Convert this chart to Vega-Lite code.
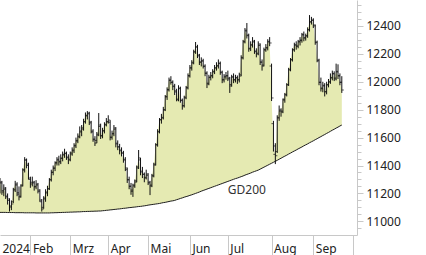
{
"$schema":"https://vega.github.io/schema/vega-lite/v6.json",
"width":357,"height":235,"autosize":{"type":"none"},"padding":{"left":0,"top":0,"right":69,"bottom":20},"background":"white",
"config":{"view":{"stroke":null},"font":"Noto Sans","axis":{"labelFont":"Noto Sans","labelFontSize":12,"labelColor":"#222222","domainColor":"#c8c8c8","tickColor":"#c8c8c8","grid":false,"title":null,"labelOverlap":false},"axisY":{"labelOverlap":false}},
"data":{"values":[
{"d":"2024-01-10","o":11250,"h":11310,"l":11200,"c":11281,"g":11064},
{"d":"2024-01-11","o":11275,"h":11290,"l":11190,"c":11210,"g":11064},
{"d":"2024-01-12","o":11220,"h":11265,"l":11180,"c":11238,"g":11064},
{"d":"2024-01-15","o":11230,"h":11245,"l":11160,"c":11181,"g":11064},
{"d":"2024-01-16","o":11175,"h":11200,"l":11120,"c":11160,"g":11063},
{"d":"2024-01-17","o":11150,"h":11165,"l":11070,"c":11102,"g":11063},
{"d":"2024-01-18","o":11110,"h":11150,"l":11080,"c":11124,"g":11063},
{"d":"2024-01-19","o":11140,"h":11240,"l":11130,"c":11224,"g":11063},
{"d":"2024-01-22","o":11230,"h":11290,"l":11210,"c":11267,"g":11062},
{"d":"2024-01-23","o":11260,"h":11280,"l":11180,"c":11195,"g":11062},
{"d":"2024-01-24","o":11205,"h":11250,"l":11150,"c":11174,"g":11062},
{"d":"2024-01-25","o":11180,"h":11265,"l":11170,"c":11253,"g":11062},
{"d":"2024-01-26","o":11260,"h":11380,"l":11250,"c":11367,"g":11062},
{"d":"2024-01-29","o":11370,"h":11460,"l":11350,"c":11439,"g":11061},
{"d":"2024-01-30","o":11440,"h":11450,"l":11380,"c":11410,"g":11061},
{"d":"2024-01-31","o":11400,"h":11420,"l":11300,"c":11310,"g":11061},
{"d":"2024-02-01","o":11300,"h":11320,"l":11240,"c":11267,"g":11061},
{"d":"2024-02-02","o":11280,"h":11320,"l":11250,"c":11281,"g":11061},
{"d":"2024-02-05","o":11275,"h":11290,"l":11220,"c":11246,"g":11061},
{"d":"2024-02-06","o":11250,"h":11295,"l":11230,"c":11267,"g":11060},
{"d":"2024-02-07","o":11260,"h":11275,"l":11200,"c":11224,"g":11060},
{"d":"2024-02-08","o":11215,"h":11230,"l":11140,"c":11152,"g":11060},
{"d":"2024-02-09","o":11140,"h":11160,"l":11070,"c":11088,"g":11060},
{"d":"2024-02-12","o":11100,"h":11180,"l":11090,"c":11167,"g":11060},
{"d":"2024-02-13","o":11160,"h":11230,"l":11140,"c":11203,"g":11060},
{"d":"2024-02-14","o":11210,"h":11255,"l":11180,"c":11231,"g":11060},
{"d":"2024-02-15","o":11235,"h":11310,"l":11225,"c":11296,"g":11060},
{"d":"2024-02-16","o":11300,"h":11370,"l":11285,"c":11353,"g":11061},
{"d":"2024-02-19","o":11350,"h":11400,"l":11330,"c":11382,"g":11061},
{"d":"2024-02-20","o":11380,"h":11430,"l":11360,"c":11418,"g":11062},
{"d":"2024-02-21","o":11420,"h":11460,"l":11400,"c":11439,"g":11062},
{"d":"2024-02-22","o":11445,"h":11470,"l":11400,"c":11425,"g":11063},
{"d":"2024-02-23","o":11430,"h":11480,"l":11410,"c":11454,"g":11063},
{"d":"2024-02-26","o":11450,"h":11500,"l":11430,"c":11475,"g":11064},
{"d":"2024-02-27","o":11480,"h":11520,"l":11455,"c":11489,"g":11064},
{"d":"2024-02-28","o":11485,"h":11500,"l":11440,"c":11461,"g":11065},
{"d":"2024-02-29","o":11455,"h":11480,"l":11410,"c":11439,"g":11065},
{"d":"2024-03-01","o":11445,"h":11500,"l":11430,"c":11482,"g":11066},
{"d":"2024-03-04","o":11490,"h":11530,"l":11470,"c":11511,"g":11066},
{"d":"2024-03-05","o":11505,"h":11560,"l":11490,"c":11540,"g":11067},
{"d":"2024-03-06","o":11545,"h":11600,"l":11525,"c":11575,"g":11067},
{"d":"2024-03-07","o":11580,"h":11630,"l":11560,"c":11604,"g":11068},
{"d":"2024-03-08","o":11610,"h":11680,"l":11595,"c":11647,"g":11068},
{"d":"2024-03-11","o":11640,"h":11690,"l":11610,"c":11661,"g":11069},
{"d":"2024-03-12","o":11670,"h":11735,"l":11650,"c":11712,"g":11070},
{"d":"2024-03-13","o":11715,"h":11780,"l":11700,"c":11755,"g":11070},
{"d":"2024-03-14","o":11760,"h":11790,"l":11730,"c":11776,"g":11071},
{"d":"2024-03-15","o":11770,"h":11785,"l":11690,"c":11712,"g":11071},
{"d":"2024-03-18","o":11705,"h":11720,"l":11630,"c":11647,"g":11072},
{"d":"2024-03-19","o":11640,"h":11660,"l":11570,"c":11590,"g":11072},
{"d":"2024-03-20","o":11585,"h":11610,"l":11540,"c":11561,"g":11073},
{"d":"2024-03-21","o":11580,"h":11640,"l":11560,"c":11618,"g":11073},
{"d":"2024-03-22","o":11625,"h":11776,"l":11610,"c":11690,"g":11074},
{"d":"2024-03-25","o":11680,"h":11700,"l":11590,"c":11611,"g":11074},
{"d":"2024-03-26","o":11615,"h":11670,"l":11595,"c":11647,"g":11076},
{"d":"2024-03-27","o":11650,"h":11710,"l":11630,"c":11690,"g":11077},
{"d":"2024-03-28","o":11695,"h":11740,"l":11680,"c":11712,"g":11079},
{"d":"2024-04-02","o":11715,"h":11760,"l":11700,"c":11726,"g":11080},
{"d":"2024-04-03","o":11710,"h":11725,"l":11580,"c":11604,"g":11082},
{"d":"2024-04-04","o":11600,"h":11650,"l":11585,"c":11626,"g":11083},
{"d":"2024-04-05","o":11630,"h":11690,"l":11610,"c":11669,"g":11085},
{"d":"2024-04-08","o":11660,"h":11675,"l":11530,"c":11554,"g":11086},
{"d":"2024-04-09","o":11560,"h":11580,"l":11510,"c":11532,"g":11088},
{"d":"2024-04-10","o":11535,"h":11555,"l":11480,"c":11511,"g":11089},
{"d":"2024-04-11","o":11505,"h":11530,"l":11465,"c":11489,"g":11091},
{"d":"2024-04-12","o":11490,"h":11505,"l":11420,"c":11439,"g":11093},
{"d":"2024-04-15","o":11445,"h":11460,"l":11360,"c":11382,"g":11094},
{"d":"2024-04-16","o":11370,"h":11385,"l":11275,"c":11296,"g":11096},
{"d":"2024-04-17","o":11300,"h":11320,"l":11230,"c":11253,"g":11098},
{"d":"2024-04-18","o":11250,"h":11275,"l":11190,"c":11224,"g":11099},
{"d":"2024-04-19","o":11215,"h":11270,"l":11175,"c":11253,"g":11101},
{"d":"2024-04-22","o":11260,"h":11300,"l":11240,"c":11281,"g":11102},
{"d":"2024-04-23","o":11290,"h":11400,"l":11280,"c":11382,"g":11104},
{"d":"2024-04-24","o":11390,"h":11511,"l":11375,"c":11454,"g":11106},
{"d":"2024-04-25","o":11440,"h":11455,"l":11330,"c":11353,"g":11107},
{"d":"2024-04-26","o":11360,"h":11390,"l":11310,"c":11339,"g":11109},
{"d":"2024-04-29","o":11335,"h":11350,"l":11280,"c":11310,"g":11111},
{"d":"2024-04-30","o":11315,"h":11370,"l":11300,"c":11339,"g":11113},
{"d":"2024-05-02","o":11330,"h":11345,"l":11260,"c":11281,"g":11116},
{"d":"2024-05-03","o":11275,"h":11290,"l":11188,"c":11253,"g":11118},
{"d":"2024-05-06","o":11260,"h":11340,"l":11245,"c":11324,"g":11120},
{"d":"2024-05-07","o":11330,"h":11420,"l":11315,"c":11403,"g":11122},
{"d":"2024-05-08","o":11410,"h":11560,"l":11400,"c":11547,"g":11124},
{"d":"2024-05-09","o":11550,"h":11660,"l":11535,"c":11640,"g":11126},
{"d":"2024-05-10","o":11645,"h":11740,"l":11630,"c":11726,"g":11128},
{"d":"2024-05-13","o":11730,"h":11770,"l":11700,"c":11740,"g":11131},
{"d":"2024-05-14","o":11745,"h":11820,"l":11730,"c":11798,"g":11134},
{"d":"2024-05-15","o":11800,"h":11905,"l":11790,"c":11891,"g":11136},
{"d":"2024-05-16","o":11895,"h":11960,"l":11870,"c":11941,"g":11139},
{"d":"2024-05-17","o":11945,"h":12030,"l":11930,"c":12013,"g":11142},
{"d":"2024-05-20","o":12010,"h":12040,"l":11980,"c":11998,"g":11145},
{"d":"2024-05-21","o":11995,"h":12010,"l":11940,"c":11970,"g":11147},
{"d":"2024-05-22","o":11965,"h":11985,"l":11905,"c":11927,"g":11150},
{"d":"2024-05-23","o":11935,"h":11950,"l":11860,"c":11876,"g":11155},
{"d":"2024-05-24","o":11870,"h":11975,"l":11860,"c":11955,"g":11159},
{"d":"2024-05-27","o":11950,"h":11965,"l":11850,"c":11869,"g":11164},
{"d":"2024-05-28","o":11865,"h":11880,"l":11800,"c":11826,"g":11168},
{"d":"2024-05-29","o":11830,"h":11900,"l":11815,"c":11884,"g":11173},
{"d":"2024-05-30","o":11890,"h":11970,"l":11875,"c":11955,"g":11177},
{"d":"2024-05-31","o":11960,"h":12060,"l":11945,"c":12041,"g":11181},
{"d":"2024-06-03","o":12045,"h":12120,"l":12030,"c":12099,"g":11186},
{"d":"2024-06-04","o":12100,"h":12155,"l":12080,"c":12134,"g":11190},
{"d":"2024-06-05","o":12140,"h":12230,"l":12125,"c":12213,"g":11195},
{"d":"2024-06-06","o":12215,"h":12285,"l":12200,"c":12249,"g":11200},
{"d":"2024-06-07","o":12250,"h":12265,"l":12170,"c":12192,"g":11205},
{"d":"2024-06-10","o":12185,"h":12200,"l":12120,"c":12142,"g":11210},
{"d":"2024-06-11","o":12140,"h":12175,"l":12110,"c":12149,"g":11216},
{"d":"2024-06-12","o":12150,"h":12165,"l":12095,"c":12113,"g":11221},
{"d":"2024-06-13","o":12110,"h":12125,"l":12040,"c":12063,"g":11226},
{"d":"2024-06-14","o":12060,"h":12075,"l":11955,"c":11984,"g":11231},
{"d":"2024-06-17","o":11990,"h":12050,"l":11975,"c":12034,"g":11236},
{"d":"2024-06-18","o":12030,"h":12070,"l":12010,"c":12041,"g":11241},
{"d":"2024-06-19","o":12045,"h":12090,"l":12025,"c":12070,"g":11246},
{"d":"2024-06-20","o":12075,"h":12120,"l":12055,"c":12099,"g":11251},
{"d":"2024-06-21","o":12100,"h":12140,"l":12080,"c":12113,"g":11256},
{"d":"2024-06-24","o":12115,"h":12160,"l":12095,"c":12134,"g":11261},
{"d":"2024-06-25","o":12130,"h":12145,"l":12050,"c":12070,"g":11266},
{"d":"2024-06-26","o":12065,"h":12080,"l":11990,"c":12013,"g":11271},
{"d":"2024-06-27","o":12015,"h":12055,"l":11995,"c":12034,"g":11276},
{"d":"2024-06-28","o":12040,"h":12070,"l":12015,"c":12041,"g":11281},
{"d":"2024-07-01","o":12045,"h":12080,"l":12005,"c":12027,"g":11286},
{"d":"2024-07-02","o":12020,"h":12035,"l":11920,"c":11970,"g":11291},
{"d":"2024-07-03","o":11980,"h":12050,"l":11965,"c":12034,"g":11296},
{"d":"2024-07-04","o":12035,"h":12060,"l":11990,"c":12013,"g":11301},
{"d":"2024-07-05","o":12015,"h":12050,"l":11995,"c":12027,"g":11306},
{"d":"2024-07-08","o":12030,"h":12045,"l":11985,"c":12013,"g":11310},
{"d":"2024-07-09","o":12015,"h":12065,"l":11995,"c":12041,"g":11315},
{"d":"2024-07-10","o":12050,"h":12190,"l":12040,"c":12170,"g":11320},
{"d":"2024-07-11","o":12175,"h":12300,"l":12160,"c":12285,"g":11325},
{"d":"2024-07-12","o":12290,"h":12385,"l":12275,"c":12364,"g":11331},
{"d":"2024-07-15","o":12370,"h":12421,"l":12310,"c":12335,"g":11336},
{"d":"2024-07-16","o":12330,"h":12345,"l":12215,"c":12235,"g":11341},
{"d":"2024-07-17","o":12240,"h":12290,"l":12220,"c":12263,"g":11346},
{"d":"2024-07-18","o":12265,"h":12320,"l":12245,"c":12292,"g":11352},
{"d":"2024-07-19","o":12285,"h":12300,"l":12200,"c":12220,"g":11357},
{"d":"2024-07-22","o":12215,"h":12240,"l":12175,"c":12199,"g":11362},
{"d":"2024-07-23","o":12205,"h":12290,"l":12190,"c":12270,"g":11367},
{"d":"2024-07-24","o":12260,"h":12275,"l":12120,"c":12142,"g":11374},
{"d":"2024-07-25","o":12140,"h":12160,"l":12080,"c":12113,"g":11381},
{"d":"2024-07-26","o":12120,"h":12245,"l":12110,"c":12228,"g":11388},
{"d":"2024-07-29","o":12230,"h":12270,"l":12215,"c":12242,"g":11395},
{"d":"2024-07-30","o":12245,"h":12305,"l":12225,"c":12285,"g":11402},
{"d":"2024-07-31","o":12290,"h":12320,"l":12255,"c":12278,"g":11409},
{"d":"2024-08-01","o":12113,"h":12130,"l":11862,"c":11884,"g":11416},
{"d":"2024-08-02","o":11700,"h":11720,"l":11500,"c":11540,"g":11423},
{"d":"2024-08-05","o":11480,"h":11560,"l":11410,"c":11470,"g":11430},
{"d":"2024-08-06","o":11500,"h":11760,"l":11490,"c":11740,"g":11437},
{"d":"2024-08-07","o":11745,"h":11830,"l":11720,"c":11798,"g":11445},
{"d":"2024-08-08","o":11790,"h":11810,"l":11750,"c":11783,"g":11452},
{"d":"2024-08-09","o":11790,"h":11880,"l":11775,"c":11869,"g":11460},
{"d":"2024-08-12","o":11875,"h":11920,"l":11850,"c":11905,"g":11467},
{"d":"2024-08-13","o":11910,"h":11990,"l":11895,"c":11977,"g":11474},
{"d":"2024-08-14","o":11980,"h":12100,"l":11970,"c":12084,"g":11482},
{"d":"2024-08-15","o":12090,"h":12170,"l":12075,"c":12156,"g":11489},
{"d":"2024-08-16","o":12160,"h":12240,"l":12145,"c":12228,"g":11497},
{"d":"2024-08-19","o":12230,"h":12280,"l":12215,"c":12263,"g":11504},
{"d":"2024-08-20","o":12265,"h":12290,"l":12230,"c":12256,"g":11511},
{"d":"2024-08-21","o":12255,"h":12300,"l":12240,"c":12285,"g":11519},
{"d":"2024-08-22","o":12290,"h":12320,"l":12260,"c":12299,"g":11526},
{"d":"2024-08-23","o":12295,"h":12350,"l":12280,"c":12335,"g":11533},
{"d":"2024-08-26","o":12340,"h":12360,"l":12290,"c":12314,"g":11541},
{"d":"2024-08-27","o":12315,"h":12345,"l":12295,"c":12328,"g":11548},
{"d":"2024-08-28","o":12330,"h":12390,"l":12315,"c":12371,"g":11555},
{"d":"2024-08-29","o":12375,"h":12478,"l":12360,"c":12428,"g":11563},
{"d":"2024-08-30","o":12430,"h":12465,"l":12410,"c":12443,"g":11570},
{"d":"2024-09-02","o":12440,"h":12455,"l":12385,"c":12407,"g":11577},
{"d":"2024-09-03","o":12400,"h":12410,"l":12265,"c":12285,"g":11585},
{"d":"2024-09-04","o":12280,"h":12295,"l":12140,"c":12156,"g":11592},
{"d":"2024-09-05","o":12150,"h":12165,"l":11975,"c":11998,"g":11600},
{"d":"2024-09-06","o":11995,"h":12030,"l":11930,"c":11955,"g":11607},
{"d":"2024-09-09","o":11950,"h":12000,"l":11925,"c":11970,"g":11615},
{"d":"2024-09-10","o":11975,"h":11990,"l":11895,"c":11927,"g":11622},
{"d":"2024-09-11","o":11930,"h":12000,"l":11910,"c":11977,"g":11630},
{"d":"2024-09-12","o":11980,"h":12020,"l":11960,"c":11998,"g":11637},
{"d":"2024-09-13","o":12000,"h":12060,"l":11985,"c":12027,"g":11645},
{"d":"2024-09-16","o":12030,"h":12080,"l":12010,"c":12056,"g":11653},
{"d":"2024-09-17","o":12060,"h":12075,"l":12005,"c":12027,"g":11660},
{"d":"2024-09-18","o":12020,"h":12130,"l":12010,"c":12070,"g":11668},
{"d":"2024-09-19","o":12075,"h":12125,"l":12020,"c":12041,"g":11675},
{"d":"2024-09-20","o":12045,"h":12060,"l":11975,"c":11998,"g":11683},
{"d":"2024-09-23","o":11995,"h":12040,"l":11920,"c":11941,"g":11690},
{"d":"2024-09-24"},{"d":"2024-09-25"},{"d":"2024-09-26"},{"d":"2024-09-27"},{"d":"2024-09-30"},{"d":"2024-10-01"},{"d":"2024-10-02"},{"d":"2024-10-03"}
]},
"encoding":{"x":{"field":"d","type":"ordinal","scale":{"type":"point","padding":0},"axis":{
"values":["2024-01-10","2024-02-01","2024-03-01","2024-04-02","2024-05-02","2024-06-03","2024-07-01","2024-08-01","2024-09-02","2024-10-01"],
"labelExpr":"datum.value == '2024-01-10' ? '2024' : (datum.value == '2024-10-01' ? '' : ['Jan','Feb','Mrz','Apr','Mai','Jun','Jul','Aug','Sep','Okt'][toNumber(slice(datum.value,5,7))-1])",
"tickSize":20,"tickColor":{"condition":{"test":"datum.value == '2024-01-10'","value":"transparent"},"value":"#c8c8c8"},
"labelAlign":"left","labelBaseline":"alphabetic","labelPadding":-3,"labelOffset":2,"labelAngle":0,"labelOverlap":false,"labelFlush":false,"labelBound":false}}},
"resolve":{"scale":{"y":"independent"}},
"layer":[
{"layer":[
{"mark":{"type":"point","opacity":0},"encoding":{}},
{"mark":{"type":"area","color":"#e5eab2"},"encoding":{"y":{"field":"c","type":"quantitative","scale":{"domain":[10902,12586],"nice":false,"zero":false},"axis":{"orient":"right","values":[11000,11200,11400,11600,11800,12000,12200,12400],"format":"d","tickSize":6,"labelPadding":3,"labelAlign":"left","labelBaseline":"middle","labelOverlap":false,"labelFlush":false,"labelBound":false}},"y2":{"field":"g"}}},
{"mark":{"type":"line","color":"#1e1e1e","strokeWidth":1},"encoding":{"y":{"field":"g","type":"quantitative","axis":{"orient":"right","values":[11000,11200,11400,11600,11800,12000,12200,12400],"format":"d","tickSize":6,"labelPadding":3,"labelAlign":"left","labelBaseline":"middle","labelOverlap":false,"labelFlush":false,"labelBound":false}}}},
{"mark":{"type":"rule","color":"#111111","strokeWidth":1},"encoding":{"y":{"field":"l","type":"quantitative","axis":{"orient":"right","values":[11000,11200,11400,11600,11800,12000,12200,12400],"format":"d","tickSize":6,"labelPadding":3,"labelAlign":"left","labelBaseline":"middle","labelOverlap":false,"labelFlush":false,"labelBound":false}},"y2":{"field":"h"}}},
{"mark":{"type":"tick","color":"#111111","thickness":1,"size":2,"xOffset":-1},"encoding":{"y":{"field":"o","type":"quantitative","axis":{"orient":"right","values":[11000,11200,11400,11600,11800,12000,12200,12400],"format":"d","tickSize":6,"labelPadding":3,"labelAlign":"left","labelBaseline":"middle","labelOverlap":false,"labelFlush":false,"labelBound":false}}}},
{"mark":{"type":"tick","color":"#111111","thickness":1,"size":2,"xOffset":1},"encoding":{"y":{"field":"c","type":"quantitative","axis":{"orient":"right","values":[11000,11200,11400,11600,11800,12000,12200,12400],"format":"d","tickSize":6,"labelPadding":3,"labelAlign":"left","labelBaseline":"middle","labelOverlap":false,"labelFlush":false,"labelBound":false}}}},
{"data":{"values":[{"d":"2024-07-15","v":11228,"t":"GD200"}]},"mark":{"type":"text","font":"Noto Sans","fontSize":12,"color":"#333333","align":"center","baseline":"middle"},"encoding":{"y":{"field":"v","type":"quantitative","axis":{"orient":"right","values":[11000,11200,11400,11600,11800,12000,12200,12400],"format":"d","tickSize":6,"labelPadding":3,"labelAlign":"left","labelBaseline":"middle","labelOverlap":false,"labelFlush":false,"labelBound":false}},"text":{"field":"t"}}}
]},
{"mark":{"type":"point","opacity":0},"encoding":{"y":{"field":"c","type":"quantitative","scale":{"domain":[10902,12586],"nice":false,"zero":false},"axis":{"orient":"right","values":[10950,11050,11100,11150,11250,11300,11350,11450,11500,11550,11650,11700,11750,11850,11900,11950,12050,12100,12150,12250,12300,12350,12450,12500,12550],"labels":false,"domain":false,"tickSize":4}}}}
]
}
